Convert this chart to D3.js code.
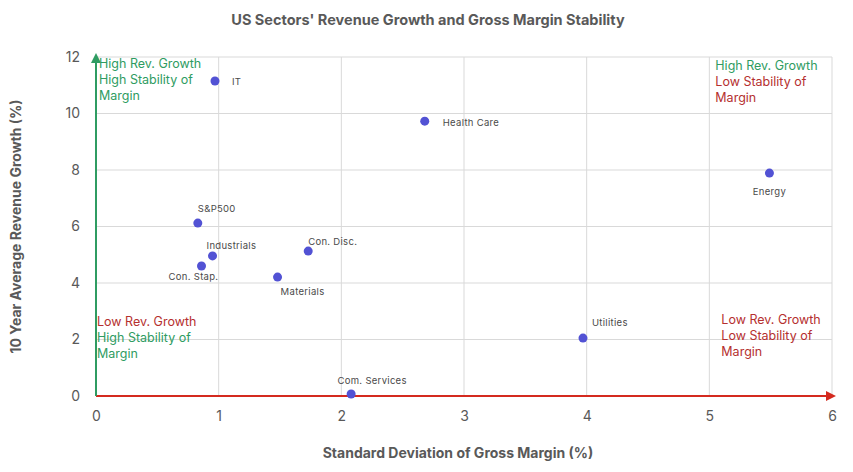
<!DOCTYPE html>
<html>
<head>
<meta charset="utf-8">
<script src="https://cdn.jsdelivr.net/npm/d3@7"></script>
<style>
  body { margin: 0; background: #fff; }
  svg { font-family: Inter, "Noto Sans", sans-serif; }
</style>
</head>
<body>
<div id="chart"></div>
<script>
// sector data
const sectors = ['IT', 'Health Care', 'Energy', 'S&P500', 'Industrials', 'Con. Stap.', 'Con. Disc.', 'Materials', 'Utilities', 'Com. Services'];
const marginStdDev = [0.97, 2.68, 5.49, 0.83, 0.95, 0.86, 1.73, 1.48, 3.97, 2.08];
const revenueGrowth = [11.15, 9.73, 7.89, 6.12, 4.96, 4.6, 5.13, 4.21, 2.05, 0.07];
const xTicks = [0, 1, 2, 3, 4, 5, 6];
const yTicks = [0, 2, 4, 6, 8, 10, 12];

// label placement [dx, dy, anchor]
const labelPos = {
  'IT': [17, 4, 'start'],
  'Health Care': [18, 5, 'start'],
  'Energy': [0, 22, 'middle'],
  'S&P500': [0, -11, 'start'],
  'Industrials': [-6, -7, 'start'],
  'Con. Stap.': [-8, 14, 'middle'],
  'Con. Disc.': [0, -6, 'start'],
  'Materials': [25, 18, 'middle'],
  'Utilities': [9, -12, 'start'],
  'Com. Services': [21, -10, 'middle']
};

const GREEN = '#2f9c62', RED = '#b5302f', GREY = '#595959';

const width = 853, height = 472;
const margin = { top: 57, right: 21, bottom: 76, left: 96 };

const svg = d3.select('#chart').append('svg')
  .attr('width', width)
  .attr('height', height);

const x = d3.scaleLinear().domain([0, 6]).range([margin.left, width - margin.right]);
const y = d3.scaleLinear().domain([0, 12]).range([height - margin.bottom, margin.top]);

// gridlines
svg.append('g')
  .selectAll('line.v')
  .data(xTicks.slice(1))
  .enter().append('line')
  .attr('x1', d => x(d)).attr('x2', d => x(d))
  .attr('y1', y(0)).attr('y2', y(12))
  .attr('stroke', '#d9d9d9').attr('stroke-width', 1);

svg.append('g')
  .selectAll('line.h')
  .data(yTicks.slice(1))
  .enter().append('line')
  .attr('x1', x(0)).attr('x2', x(6))
  .attr('y1', d => y(d)).attr('y2', d => y(d))
  .attr('stroke', '#d9d9d9').attr('stroke-width', 1);

// axes (labels only)
const xAxis = svg.append('g')
  .attr('transform', `translate(0,${y(0)})`)
  .call(d3.axisBottom(x).tickValues(xTicks).tickSize(0).tickPadding(15).tickFormat(d3.format('d')));
const yAxis = svg.append('g')
  .attr('transform', `translate(${x(0)},0)`)
  .call(d3.axisLeft(y).tickValues(yTicks).tickSize(0).tickPadding(16).tickFormat(d3.format('d')));
[xAxis, yAxis].forEach(a => {
  a.select('.domain').remove();
  a.selectAll('text')
    .attr('fill', GREY)
    .style('font-size', '14px')
    .style('font-family', 'Inter, "Noto Sans", sans-serif');
});

// arrows
const defs = svg.append('defs');
[['arrow-green', GREEN], ['arrow-red', '#d42a1f']].forEach(([id, c]) => {
  defs.append('marker')
    .attr('id', id)
    .attr('viewBox', '0 0 10 10')
    .attr('refX', 8).attr('refY', 5)
    .attr('markerWidth', 5).attr('markerHeight', 5)
    .attr('orient', 'auto')
    .append('path')
    .attr('d', 'M0,0 L10,5 L0,10 z')
    .attr('fill', c);
});

svg.append('line')
  .attr('x1', x(0)).attr('x2', x(6) + 2)
  .attr('y1', y(0)).attr('y2', y(0))
  .attr('stroke', '#d42a1f').attr('stroke-width', 2)
  .attr('marker-end', 'url(#arrow-red)');

svg.append('line')
  .attr('x1', x(0)).attr('x2', x(0))
  .attr('y1', y(0)).attr('y2', y(12) - 2)
  .attr('stroke', GREEN).attr('stroke-width', 2)
  .attr('marker-end', 'url(#arrow-green)');

// quadrant notes
const notes = [
  { lines: [['High Rev. Growth', GREEN], ['High Stability of', GREEN], ['Margin', GREEN]], px: 0, py: 12, dx: 3, dy: 11 },
  { lines: [['High Rev. Growth', GREEN], ['Low Stability of', RED], ['Margin', RED]], px: 5, py: 12, dx: 6, dy: 13 },
  { lines: [['Low Rev. Growth', RED], ['High Stability of', GREEN], ['Margin', GREEN]], px: 0, py: 2, dx: 1, dy: -14 },
  { lines: [['Low Rev. Growth', RED], ['Low Stability of', RED], ['Margin', RED]], px: 5, py: 2, dx: 12, dy: -16 }
];
notes.forEach(n => {
  const t = svg.append('text')
    .attr('x', x(n.px) + n.dx)
    .attr('y', y(n.py) + n.dy)
    .style('font-size', '12.5px');
  n.lines.forEach((l, i) => {
    t.append('tspan')
      .attr('x', x(n.px) + n.dx)
      .attr('dy', i === 0 ? 0 : 16)
      .attr('fill', l[1])
      .text(l[0]);
  });
});

// points
const points = sectors.map((s, i) => ({ name: s, sd: marginStdDev[i], growth: revenueGrowth[i] }));

svg.append('g')
  .selectAll('circle')
  .data(points)
  .enter().append('circle')
  .attr('cx', d => x(d.sd))
  .attr('cy', d => y(d.growth))
  .attr('r', 4.5)
  .attr('fill', '#5252d4');

svg.append('g')
  .selectAll('text')
  .data(points)
  .enter().append('text')
  .attr('x', d => x(d.sd) + labelPos[d.name][0])
  .attr('y', d => y(d.growth) + labelPos[d.name][1])
  .attr('text-anchor', d => labelPos[d.name][2])
  .attr('fill', '#4a4a4a')
  .style('font-size', '9.5px')
  .style('letter-spacing', '0.3px')
  .text(d => d.name);

// titles
svg.append('text')
  .attr('x', 428).attr('y', 25)
  .attr('text-anchor', 'middle')
  .attr('fill', GREY)
  .style('font-size', '14.5px').style('font-weight', 'bold')
  .text("US Sectors' Revenue Growth and Gross Margin Stability");

svg.append('text')
  .attr('x', (x(0) + x(6)) / 2 - 6).attr('y', 458)
  .attr('text-anchor', 'middle')
  .attr('fill', GREY)
  .style('font-size', '14px').style('font-weight', 'bold')
  .text('Standard Deviation of Gross Margin (%)');

svg.append('text')
  .attr('transform', `translate(21,${(y(0) + y(12)) / 2}) rotate(-90)`)
  .attr('text-anchor', 'middle')
  .attr('fill', GREY)
  .style('font-size', '14px').style('font-weight', 'bold')
  .text('10 Year Average Revenue Growth (%)');
</script>
</body>
</html>
